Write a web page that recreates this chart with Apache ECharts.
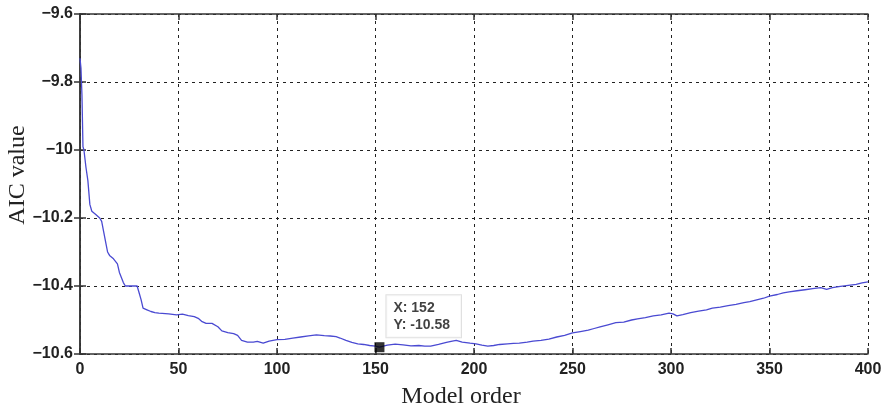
<!DOCTYPE html>
<html>
<head>
<meta charset="utf-8">
<script src="https://cdn.jsdelivr.net/npm/echarts@6/dist/echarts.min.js"></script>
<style>
html, body { margin: 0; padding: 0; background: #fff; }
#chart { width: 888px; height: 411px; }
</style>
</head>
<body>
<div id="chart"></div>
<script>
// model order (x) and AIC value (y)
var order = [0, 0.5, 1, 1.5, 2, 3, 4, 5, 6, 8, 10, 11, 12, 13, 14, 15, 17, 19, 20, 21, 22, 23, 25, 27, 29, 30, 31, 32, 34, 36, 38, 40, 45, 49, 52, 55, 58, 60, 62, 64, 67, 70, 72, 75, 78, 80, 82, 85, 88, 90, 93, 96, 98, 100, 104, 108, 112, 116, 120, 124, 127, 130, 132, 135, 138, 141, 144, 147, 150, 152, 154, 156, 160, 164, 168, 172, 175, 178, 182, 186, 189, 191, 194, 198, 201, 204, 207, 210, 213, 217, 220, 223, 227, 230, 234, 238, 242, 246, 250, 254, 258, 261, 264, 268, 272, 276, 280, 283, 287, 291, 295, 299, 301, 303, 306, 310, 314, 318, 321, 325, 329, 333, 337, 340, 344, 347, 350, 354, 357, 360, 364, 368, 372, 376, 379, 382, 386, 390, 394, 397, 400]
var aic = [-9.73, -9.76, -9.84, -9.99, -10.0, -10.05, -10.09, -10.16, -10.18, -10.19, -10.2, -10.21, -10.24, -10.27, -10.3, -10.31, -10.32, -10.335, -10.36, -10.375, -10.39, -10.4, -10.4, -10.4, -10.4, -10.42, -10.44, -10.465, -10.47, -10.475, -10.478, -10.48, -10.482, -10.485, -10.483, -10.487, -10.49, -10.495, -10.505, -10.51, -10.51, -10.52, -10.532, -10.537, -10.54, -10.545, -10.56, -10.565, -10.565, -10.563, -10.568, -10.562, -10.56, -10.558, -10.557, -10.553, -10.55, -10.547, -10.544, -10.546, -10.547, -10.549, -10.553, -10.56, -10.566, -10.57, -10.572, -10.575, -10.577, -10.58, -10.577, -10.574, -10.571, -10.573, -10.576, -10.575, -10.577, -10.577, -10.572, -10.566, -10.562, -10.56, -10.565, -10.568, -10.57, -10.574, -10.577, -10.575, -10.572, -10.57, -10.569, -10.568, -10.565, -10.562, -10.56, -10.556, -10.55, -10.545, -10.538, -10.534, -10.53, -10.525, -10.52, -10.514, -10.508, -10.506, -10.5, -10.497, -10.493, -10.488, -10.485, -10.48, -10.482, -10.488, -10.484, -10.478, -10.474, -10.47, -10.465, -10.462, -10.458, -10.454, -10.449, -10.446, -10.44, -10.436, -10.43, -10.425, -10.42, -10.417, -10.414, -10.411, -10.408, -10.405, -10.41, -10.405, -10.401, -10.398, -10.395, -10.391, -10.388]

// data tip
var tipX = 152
var tipY = -10.58

var xTicks = [0, 50, 100, 150, 200, 250, 300, 350, 400]
var yTicks = [-10.6, -10.4, -10.2, -10, -9.8, -9.6]

var lineData = order.map(function (x, i) { return [x, aic[i]] })

var dom = document.getElementById('chart')
var chart = echarts.init(dom)

var gridLine = { show: true, lineStyle: { color: '#222', type: [3, 4], width: 1 } }
var frameLine = { show: true, lineStyle: { color: '#333', width: 1.5 } }
var tick = { show: true, inside: true, length: 6, lineStyle: { color: '#333', width: 1.5 } }
var tickFont = { fontFamily: 'Liberation Sans', fontSize: 16, fontWeight: 'bold', color: '#222' }

var option = {
    animation: false,
    grid: { left: 80, right: 20, top: 14, bottom: 57, outerBoundsMode: 'none' },
    xAxis: [{
        type: 'value',
        min: xTicks[0],
        max: xTicks[xTicks.length - 1],
        interval: 50,
        name: 'Model order',
        nameLocation: 'middle',
        nameGap: 31,
        nameMoveOverlap: false,
        nameTextStyle: { fontFamily: 'Liberation Serif', fontSize: 24, color: '#222', padding: [0, 26, 0, 0] },
        axisLine: frameLine,
        axisTick: tick,
        splitLine: gridLine,
        axisLabel: Object.assign({ margin: 8 }, tickFont)
    }, {
        type: 'value',
        position: 'top',
        min: xTicks[0],
        max: xTicks[xTicks.length - 1],
        interval: 50,
        axisLine: frameLine,
        axisTick: tick,
        splitLine: { show: false },
        axisLabel: { show: false }
    }],
    yAxis: [{
        type: 'value',
        min: yTicks[0],
        max: yTicks[yTicks.length - 1],
        interval: 0.2,
        name: 'AIC value',
        nameLocation: 'middle',
        nameGap: 50,
        nameMoveOverlap: false,
        nameTextStyle: { fontFamily: 'Liberation Serif', fontSize: 24, color: '#222', padding: [0, 0, 0, 18] },
        axisLine: frameLine,
        axisTick: tick,
        splitLine: gridLine,
        axisLabel: Object.assign({
            margin: 7,
            formatter: function (v) { return String(+v.toFixed(1)).replace('-', '\u2212') }
        }, tickFont)
    }, {
        type: 'value',
        position: 'right',
        min: yTicks[0],
        max: yTicks[yTicks.length - 1],
        interval: 0.2,
        axisLine: frameLine,
        axisTick: tick,
        splitLine: { show: false },
        axisLabel: { show: false }
    }],
    series: [{
        type: 'line',
        data: lineData,
        showSymbol: false,
        lineStyle: { color: '#4a4ad2', width: 1.3 },
        z: 3
    }, {
        type: 'scatter',
        data: [[tipX, tipY]],
        symbol: 'rect',
        symbolSize: 10,
        itemStyle: { color: '#000' },
        z: 5,
        label: {
            show: true,
            position: [12, -47],
            formatter: 'X: ' + tipX + '\nY: ' + tipY.toFixed(2),
            fontFamily: 'Liberation Sans',
            fontWeight: 'bold',
            fontSize: 14,
            lineHeight: 17,
            color: '#111',
            backgroundColor: '#fff',
            borderColor: '#d8d8d8',
            borderWidth: 1,
            padding: [4, 11, 4, 7]
        }
    }]
}
chart.setOption(option)
</script>
</body>
</html>
